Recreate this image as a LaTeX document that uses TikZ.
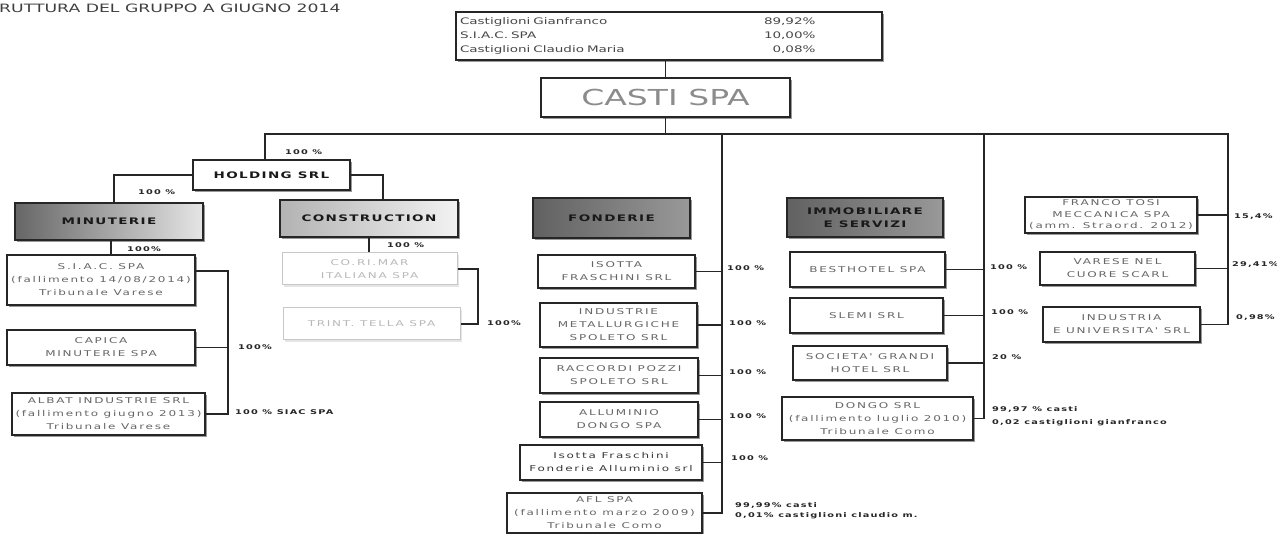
\documentclass[tikz,border=0pt]{standalone}
\usepackage{fontspec}
\usetikzlibrary{shadows}
\newfontfamily\boxfam[FakeStretch=1.5,LetterSpace=22]{DejaVu Sans}
\newfontfamily\headfam[FakeStretch=1.5,LetterSpace=15]{DejaVu Sans}
\newfontfamily\labfam[FakeStretch=1.5,LetterSpace=18]{DejaVu Sans}
\newfontfamily\topfam[FakeStretch=1.5]{DejaVu Sans}
\tikzset{
  conn/.style={line width=1.4pt, draw=black!85},
  box/.style={draw=black!85, line width=1.3pt, fill=white, align=center, inner sep=1pt,
    text=black!60, font=\boxfam\fontsize{8}{13}\selectfont,
    drop shadow={shadow xshift=2pt, shadow yshift=-2pt, fill=black!40, opacity=1}},
  faint/.style={draw=black!22, line width=1pt, fill=white, align=center, inner sep=1pt,
    text=black!28, font=\boxfam\fontsize{8}{13}\selectfont,
    drop shadow={shadow xshift=2pt, shadow yshift=-2pt, fill=black!10, opacity=1}},
  head/.style={box, text=black!90, font=\headfam\bfseries\fontsize{9}{13}\selectfont},
  gradA/.style={head, left color=black!60, right color=black!10},
  gradB/.style={head, left color=black!30, right color=black!5},
  gradC/.style={head, left color=black!62, middle color=black!6, right color=black!40},
  lab/.style={inner sep=0, anchor=west, align=left, text=black!85,
    font=\labfam\bfseries\fontsize{6.5}{11}\selectfont},
}
\begin{document}
\begin{tikzpicture}[x=1pt, y=-1pt]
\useasboundingbox (0,0) rectangle (1277,534);

\node[anchor=west, inner sep=0, text=black!75, font=\topfam\fontsize{11.5}{13}\selectfont] (title) at (-1,8) {RUTTURA DEL GRUPPO A GIUGNO 2014};

% top
\node[box, minimum width=426, minimum height=48, text width=418, align=left, inner sep=2pt,
  text=black!72, font=\topfam\fontsize{9}{14}\selectfont] (own) at (669,36)
  {\begin{tabular}{@{}p{292pt}r@{}}Castiglioni Gianfranco & 89,92\%\\ S.I.A.C. SPA & 10,00\%\\ Castiglioni Claudio Maria & 0,08\%\end{tabular}};
\node[box, minimum width=249, minimum height=39, text=black!45, font=\topfam\fontsize{22}{24}\selectfont] (casti) at (665.5,97.5) {CASTI SPA};

\coordinate (busL) at (265,134);
\coordinate (busR) at (1228,134);
\coordinate (trF) at (722,134);
\coordinate (trI) at (984,134);

% holding branch
\node[head, minimum width=157, minimum height=30] (holding) at (271.5,175) {HOLDING SRL};
\node[gradA, minimum width=188, minimum height=37] (minut) at (109,221.5) {MINUTERIE};
\node[gradB, minimum width=178, minimum height=37] (constr) at (369,218.5) {CONSTRUCTION};

\node[box, minimum width=188, minimum height=50] (siac) at (101,280) {S.I.A.C. SPA\\(fallimento 14/08/2014)\\Tribunale Varese};
\node[box, minimum width=188, minimum height=35] (capica) at (101,347.5) {CAPICA\\MINUTERIE SPA};
\node[box, minimum width=193, minimum height=42] (albat) at (108.5,414) {ALBAT INDUSTRIE SRL\\(fallimento giugno 2013)\\Tribunale Varese};

\node[faint, minimum width=175, minimum height=32] (cori) at (369.5,269) {CO.RI.MAR\\ITALIANA SPA};
\node[faint, minimum width=177, minimum height=32] (trint) at (371.5,324) {TRINT. TELLA SPA};

% fonderie
\node[gradC, minimum width=157, minimum height=40] (fond) at (611.5,218) {FONDERIE};
\node[box, minimum width=157, minimum height=33] (isotta) at (616.5,271.5) {ISOTTA\\FRASCHINI SRL};
\node[box, minimum width=157, minimum height=44] (indm) at (618.5,325) {INDUSTRIE\\METALLURGICHE\\SPOLETO SRL};
\node[box, minimum width=158, minimum height=35] (racc) at (619,375.5) {RACCORDI POZZI\\SPOLETO SRL};
\node[box, minimum width=158, minimum height=35] (allu) at (619,419.5) {ALLUMINIO\\DONGO SPA};
\node[box, minimum width=182, minimum height=35, text=black!78] (iffa) at (611,462.5) {Isotta Fraschini\\Fonderie Alluminio srl};
\node[box, minimum width=195, minimum height=40] (afl) at (604.5,513) {AFL SPA\\(fallimento marzo 2009)\\Tribunale Como};

% immobiliare
\node[gradC, minimum width=156, minimum height=39] (immo) at (865,217.5) {IMMOBILIARE\\E SERVIZI};
\node[box, minimum width=155, minimum height=35] (best) at (867.5,269.5) {BESTHOTEL SPA};
\node[box, minimum width=153, minimum height=35] (slemi) at (866.5,315.5) {SLEMI SRL};
\node[box, minimum width=154, minimum height=34] (sgh) at (870,363) {SOCIETA' GRANDI\\HOTEL SRL};
\node[box, minimum width=191, minimum height=43] (dongo) at (877.5,418.5) {DONGO SRL\\(fallimento luglio 2010)\\Tribunale Como};

% right
\node[box, minimum width=172, minimum height=36, font=\boxfam\fontsize{8}{11.5}\selectfont] (tosi) at (1111,215) {FRANCO TOSI\\MECCANICA SPA\\(amm. Straord. 2012)};
\node[box, minimum width=155, minimum height=33] (vare) at (1117.5,268.5) {VARESE NEL\\CUORE SCARL};
\node[box, minimum width=157, minimum height=35] (indu) at (1121.5,324.5) {INDUSTRIA\\E UNIVERSITA' SRL};

% connectors
\draw[conn] (casti.north) -- (casti.north |- own.south);
\draw[conn] (casti.south) -- (casti.south |- busL);
\draw[conn] (holding.north -| busL) -- (busL) -- (busR) -- (indu.east -| busR) -- (indu.east);
\draw[conn] (tosi.east) -- (tosi.east -| busR);
\draw[conn] (vare.east) -- (vare.east -| busR);

\draw[conn] (holding.west) -| ([xshift=5pt]minut.north);
\draw[conn] (holding.east) -| ([xshift=14pt]constr.north);
\draw[conn] ([xshift=2pt]minut.south) -- ([xshift=2pt]minut.south |- siac.north);
\draw[conn] (constr.south) -- (constr.south |- cori.north);

\coordinate (sb) at (228,271);
\draw[conn] ([yshift=9pt]siac.east) -- (sb) -- (sb |- albat.east) -- (albat.east);
\draw[conn] (capica.east) -- (capica.east -| sb);
\coordinate (cb) at (478,269);
\draw[conn] (cori.east) -- (cb) -- (cb |- trint.east) -- (trint.east);

\draw[conn] (trF) -- (afl.east -| trF) -- (afl.east);
\foreach \n in {isotta,indm,racc,allu,iffa} \draw[conn] (\n.east) -- (\n.east -| trF);
\draw[conn] (trI) -- (dongo.east -| trI) -- (dongo.east);
\foreach \n in {best,slemi,sgh} \draw[conn] (\n.east) -- (\n.east -| trI);

% labels
\node[lab] (l1) at (285,152) {100 \%};
\node[lab] (l2) at (138,192) {100 \%};
\node[lab] (l3) at (127,249) {100\%};
\node[lab] (l4) at (238,347) {100\%};
\node[lab] (l5) at (235,412) {100 \% SIAC SPA};
\node[lab] (l6) at (387,245) {100 \%};
\node[lab] (l7) at (487,323) {100\%};
\node[lab] (f1) at (727,268) {100 \%};
\node[lab] (f2) at (729,323) {100 \%};
\node[lab] (f3) at (729,372) {100 \%};
\node[lab] (f4) at (729,416) {100 \%};
\node[lab] (f5) at (731,458) {100 \%};
\node[lab, font=\labfam\bfseries\fontsize{6.5}{10}\selectfont] (f6) at (735,511) {99,99\% casti\\0,01\% castiglioni claudio m.};
\node[lab] (i1) at (990,267) {100 \%};
\node[lab] (i2) at (991,312) {100 \%};
\node[lab] (i3) at (992,357) {20 \%};
\node[lab, font=\labfam\bfseries\fontsize{6.5}{13}\selectfont] (i4) at (992,416) {99,97 \% casti\\0,02 castiglioni gianfranco};
\node[lab] (r1) at (1234,217) {15,4\%};
\node[lab] (r2) at (1232,265) {29,41\%};
\node[lab] (r3) at (1236,318) {0,98\%};
\end{tikzpicture}
\end{document}
